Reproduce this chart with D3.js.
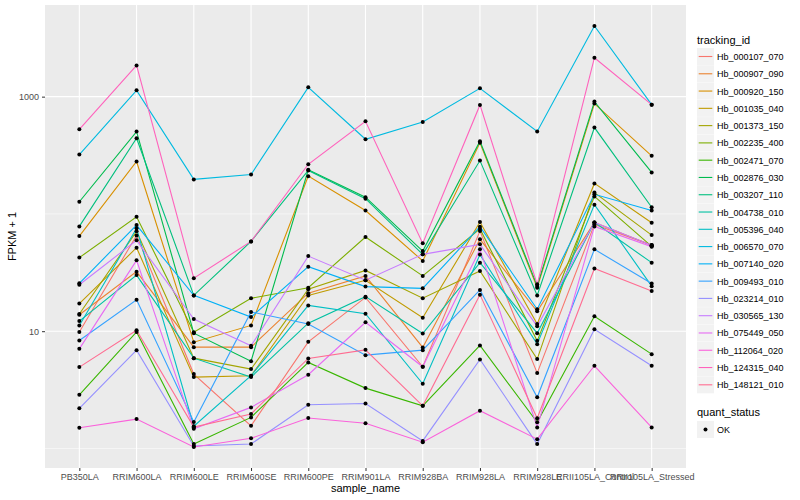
<!DOCTYPE html>
<html>
<head>
<meta charset="utf-8">
<script src="https://d3js.org/d3.v7.min.js"></script>
<style>
  html, body { margin: 0; padding: 0; background: #ffffff; }
  svg { display: block; font-family: "Liberation Sans", Arial, Helvetica, sans-serif; }
</style>
</head>
<body>
<svg id="chart" width="800" height="500"></svg>
<script>
// ---------- data ----------
const samples = ["PB350LA","RRIM600LA","RRIM600LE","RRIM600SE","RRIM600PE","RRIM901LA","RRIM928BA","RRIM928LA","RRIM928LE","RRII105LA_Control","RRII105LA_Stressed"];
const trackingIds = ["Hb_000107_070","Hb_000907_090","Hb_000920_150","Hb_001035_040","Hb_001373_150","Hb_002235_400","Hb_002471_070","Hb_002876_030","Hb_003207_110","Hb_004738_010","Hb_005396_040","Hb_006570_070","Hb_007140_020","Hb_009493_010","Hb_023214_010","Hb_030565_130","Hb_075449_050","Hb_112064_020","Hb_124315_040","Hb_148121_010"];
const quantStatus = ["OK"];
const yTickValues = [10, 1000];
const yMinorValues = [1, 100];

// FPKM + 1, one array per tracking_id (order = samples)
const Hb_000107_070 = [9.86, 65.6, 4.31, 1.56, 8.11, 19.4, 4.97, 71.4, 4.39, 81.4, 54.2];
const Hb_000907_090 = [13.8, 32.2, 7.31, 7.31, 21.1, 29.6, 7.27, 60.7, 14.8, 84.7, 54.0];
const Hb_000920_150 = [64.7, 280, 8.06, 11.2, 210, 107, 39.7, 404, 23.5, 872, 313];
const Hb_001035_040 = [17.2, 51.5, 4.06, 4.17, 20.2, 27.2, 13.0, 85.2, 11.5, 182, 84.2];
const Hb_001373_150 = [14.0, 71.0, 5.89, 4.75, 22.8, 33.0, 19.1, 32.6, 5.78, 152, 66.0];
const Hb_002235_400 = [42.4, 94.6, 9.80, 19.1, 23.5, 63.5, 29.6, 74.5, 8.27, 141, 52.9];
const Hb_002471_070 = [2.87, 9.86, 1.09, 1.84, 5.42, 3.27, 2.31, 7.56, 1.67, 13.4, 6.37];
const Hb_002876_030 = [127, 504, 9.61, 5.55, 238, 139, 48.2, 417, 24.3, 907, 226];
const Hb_003207_110 = [78.3, 442, 20.2, 58.3, 235, 135, 45.2, 285, 20.2, 545, 114];
const Hb_004738_010 = [12.2, 30.1, 5.89, 4.06, 11.7, 19.7, 9.56, 38.4, 9.61, 84.7, 38.4];
const Hb_005396_040 = [11.2, 75.3, 1.55, 4.17, 16.6, 14.1, 3.56, 45.0, 7.75, 120, 24.2];
const Hb_006570_070 = [321, 1132, 197, 217, 1200, 433, 609, 1177, 504, 4000, 855];
const Hb_007140_020 = [25.6, 80.3, 20.2, 13.2, 35.5, 24.0, 23.2, 77.8, 15.4, 147, 107];
const Hb_009493_010 = [8.33, 18.5, 1.68, 14.6, 11.5, 6.25, 6.89, 22.5, 2.73, 49.9, 25.5];
const Hb_023214_010 = [2.20, 6.89, 1.05, 1.09, 2.36, 2.42, 1.16, 5.74, 1.09, 10.4, 5.07];
const Hb_030565_130 = [24.9, 59.5, 12.7, 7.50, 43.7, 27.2, 45.2, 55.0, 11.0, 84.7, 54.0];
const Hb_075449_050 = [7.07, 40.2, 1.47, 2.24, 4.25, 11.9, 4.97, 49.9, 1.51, 78.3, 52.6];
const Hb_112064_020 = [1.50, 1.78, 1.03, 1.22, 1.82, 1.64, 1.13, 2.10, 1.20, 5.07, 1.51];
const Hb_124315_040 = [527, 1846, 28.3, 58.3, 265, 616, 56.1, 850, 25.1, 2148, 855];
const Hb_148121_010 = [4.94, 10.2, 1.52, 1.97, 5.86, 6.93, 2.31, 20.5, 1.81, 34.2, 22.0];

const seriesValues = [Hb_000107_070, Hb_000907_090, Hb_000920_150, Hb_001035_040, Hb_001373_150,
  Hb_002235_400, Hb_002471_070, Hb_002876_030, Hb_003207_110, Hb_004738_010, Hb_005396_040,
  Hb_006570_070, Hb_007140_020, Hb_009493_010, Hb_023214_010, Hb_030565_130, Hb_075449_050,
  Hb_112064_020, Hb_124315_040, Hb_148121_010];

const series = trackingIds.map((id, i) => ({
  id,
  points: samples.map((s, j) => ({ sample: s, value: seriesValues[i][j] }))
}));

// ---------- styles ----------
const palette = ["#F8766D","#EA8331","#D89000","#C09B00","#A3A500","#7CAE00","#39B600","#00BB4E","#00BF7D","#00C1A3","#00BFC4","#00BAE0","#00B0F6","#35A2FF","#9590FF","#C77CFF","#E76BF3","#FA62DB","#FF62BC","#FF6C91"];
const color = d3.scaleOrdinal().domain(trackingIds).range(palette);

const panel = { left: 45, right: 686, top: 5, bottom: 468 };
const svg = d3.select("#chart");

// ---------- scales ----------
const x = d3.scalePoint().domain(samples).range([panel.left, panel.right]).padding(0.6);
const allVals = seriesValues.flat();
const lmin = Math.log10(d3.min(allVals)), lmax = Math.log10(d3.max(allVals));
const pad = (lmax - lmin) * 0.05;
const y = d3.scaleLog().domain([Math.pow(10, lmin - pad), Math.pow(10, lmax + pad)]).range([panel.bottom, panel.top]);

// ---------- panel ----------
svg.append("rect").attr("x", panel.left).attr("y", panel.top)
  .attr("width", panel.right - panel.left).attr("height", panel.bottom - panel.top)
  .attr("fill", "#EBEBEB");

const grid = svg.append("g");
grid.selectAll("line.minor").data(yMinorValues).join("line")
  .attr("x1", panel.left).attr("x2", panel.right)
  .attr("y1", d => y(d)).attr("y2", d => y(d))
  .attr("stroke", "#ffffff").attr("stroke-width", 0.55);
grid.selectAll("line.majorY").data(yTickValues).join("line")
  .attr("x1", panel.left).attr("x2", panel.right)
  .attr("y1", d => y(d)).attr("y2", d => y(d))
  .attr("stroke", "#ffffff").attr("stroke-width", 1.1);
grid.selectAll("line.majorX").data(samples).join("line")
  .attr("x1", d => x(d)).attr("x2", d => x(d))
  .attr("y1", panel.top).attr("y2", panel.bottom)
  .attr("stroke", "#ffffff").attr("stroke-width", 1.1);

// ---------- lines ----------
const line = d3.line().x(d => x(d.sample)).y(d => y(d.value));
svg.append("g").selectAll("path").data(series).join("path")
  .attr("d", d => line(d.points))
  .attr("fill", "none")
  .attr("stroke", d => color(d.id))
  .attr("stroke-width", 1.1);

// ---------- points ----------
svg.append("g").selectAll("circle")
  .data(series.flatMap(s => s.points)).join("circle")
  .attr("cx", d => x(d.sample)).attr("cy", d => y(d.value))
  .attr("r", 2).attr("fill", "#000000");

// ---------- axes ----------
const yAxis = d3.axisLeft(y).tickValues(yTickValues).tickFormat(d3.format("d")).tickSize(3).tickPadding(3);
const gy = svg.append("g").attr("transform", `translate(${panel.left},0)`).call(yAxis);
gy.select(".domain").remove();
gy.selectAll(".tick line").attr("stroke", "#333333").attr("stroke-width", 1);
gy.selectAll(".tick text").attr("fill", "#4D4D4D").attr("font-size", 9).style("font-family", "Liberation Sans, Arial, sans-serif");

const xAxis = d3.axisBottom(x).tickSize(3).tickPadding(3);
const gx = svg.append("g").attr("transform", `translate(0,${panel.bottom})`).call(xAxis);
gx.select(".domain").remove();
gx.selectAll(".tick line").attr("stroke", "#333333").attr("stroke-width", 1);
gx.selectAll(".tick text").attr("fill", "#4D4D4D").attr("font-size", 9).style("font-family", "Liberation Sans, Arial, sans-serif");

svg.append("text").attr("x", (panel.left + panel.right) / 2).attr("y", 492)
  .attr("text-anchor", "middle").attr("font-size", 11).attr("fill", "#000")
  .text("sample_name");
svg.append("text").attr("transform", `translate(16,${(panel.top + panel.bottom) / 2}) rotate(-90)`)
  .attr("text-anchor", "middle").attr("font-size", 11).attr("fill", "#000")
  .text("FPKM + 1");

// ---------- legend ----------
const lg = svg.append("g").attr("transform", "translate(697,0)");
lg.append("text").attr("x", 0).attr("y", 44).attr("font-size", 11).text("tracking_id");
const keyH = 17.28;
const item = lg.selectAll("g.item").data(trackingIds).join("g")
  .attr("transform", (d, i) => `translate(0,${48 + i * keyH})`);
item.append("rect").attr("width", 17).attr("height", 17).attr("fill", "#F2F2F2");
item.append("line").attr("x1", 1.7).attr("x2", 15.3).attr("y1", 8.5).attr("y2", 8.5)
  .attr("stroke", d => color(d)).attr("stroke-width", 1.1);
item.append("text").attr("x", 20).attr("y", 12).attr("font-size", 9).text(d => d);

lg.append("text").attr("x", 0).attr("y", 416).attr("font-size", 11).text("quant_status");
const q = lg.selectAll("g.q").data(quantStatus).join("g").attr("transform", "translate(0,421)");
q.append("rect").attr("width", 17).attr("height", 17).attr("fill", "#F2F2F2");
q.append("circle").attr("cx", 8.5).attr("cy", 8.5).attr("r", 2).attr("fill", "#000");
q.append("text").attr("x", 20).attr("y", 12).attr("font-size", 9).text(d => d);
</script>
</body>
</html>
